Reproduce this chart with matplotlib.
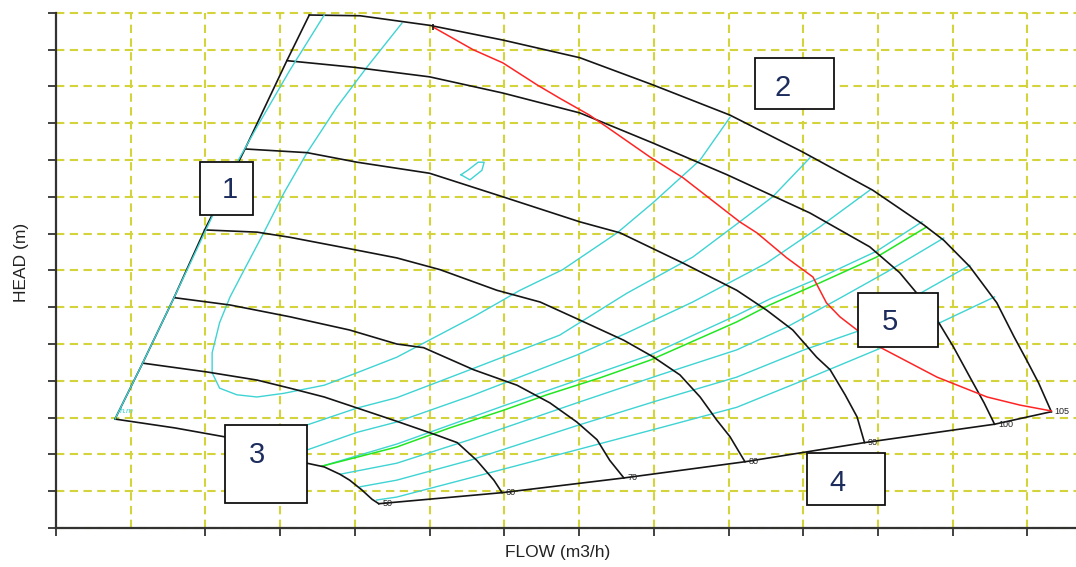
import matplotlib
matplotlib.use("Agg")
import matplotlib.pyplot as plt
from matplotlib.patches import Rectangle
from matplotlib.ticker import FixedLocator, NullFormatter

plt.rcParams['font.family'] = ['Liberation Sans', 'DejaVu Sans']

# ---------------- data (flow m3/h, head m) ----------------
speed_labels = ["50", "60", "70", "80", "90", "100", "105"]

q50 = [7.9, 9.9, 15.9, 22.5, 28.0, 33.6, 35.9, 38.0, 39.3, 40.9, 42.3, 43.2]
h50 = [14.8, 14.5, 13.6, 12.4, 10.6, 8.8, 8.3, 7.3, 6.5, 5.2, 3.9, 3.3]
q60 = [11.6, 20.2, 26.9, 31.3, 35.9, 41.2, 45.6, 51.0, 53.7, 56.3, 58.6, 59.7]
h60 = [22.4, 21.2, 20.1, 19.0, 17.8, 16.0, 14.5, 12.6, 11.6, 9.2, 6.5, 4.8]
q70 = [15.8, 23.3, 31.3, 39.3, 45.6, 49.2, 55.9, 61.7, 66.1, 69.7, 72.4, 74.1, 76.0]
h70 = [31.3, 30.3, 28.7, 26.9, 25.0, 24.5, 21.5, 19.4, 17.0, 14.4, 12.0, 9.2, 6.8]
q80 = [19.9, 26.9, 31.3, 38.0, 45.6, 51.4, 59.0, 64.8, 70.0, 76.0, 80.0, 83.5, 86.2, 88.4, 90.2, 92.2]
h80 = [40.5, 40.2, 39.5, 38.2, 36.7, 35.1, 32.3, 30.7, 28.3, 25.5, 23.2, 20.8, 17.8, 14.7, 12.4, 9.0]
q90 = [25.3, 33.6, 40.3, 50.0, 59.8, 70.1, 75.5, 83.9, 91.1, 95.1, 98.6, 101.8, 103.6, 105.6, 107.2, 108.2]
h90 = [51.5, 51.0, 49.7, 48.2, 45.0, 41.6, 40.1, 36.0, 32.3, 29.6, 26.9, 23.2, 21.5, 18.1, 15.1, 11.6]
q100 = [30.9, 39.9, 50.0, 59.8, 70.1, 79.9, 89.8, 100.9, 108.9, 112.9, 115.2, 117.9, 120.1, 122.3, 124.2, 125.6]
h100 = [63.5, 62.6, 61.3, 59.1, 56.4, 52.3, 48.0, 42.8, 38.2, 34.7, 31.9, 28.3, 24.6, 20.5, 17.0, 14.1]
q105 = [33.9, 40.7, 50.0, 59.8, 70.1, 79.9, 90.2, 99.9, 109.3, 116.1, 118.8, 122.3, 125.9, 128.2, 129.9, 131.5, 133.2]
h105 = [69.7, 69.6, 68.3, 66.3, 63.9, 60.2, 56.1, 51.1, 45.9, 41.2, 39.1, 35.5, 30.6, 26.0, 22.8, 19.7, 15.8]

# best-efficiency (red) line
q_red = [50.4, 55.8, 59.8, 64.4, 67.4, 71.4, 73.7, 79.5, 83.9, 91.5, 93.8, 97.8, 101.3, 103.1,
         104.9, 107.2, 110.2, 117.9, 124.6, 129.0, 133.2]
h_red = [68.1, 65.0, 63.2, 60.2, 58.4, 56.1, 54.5, 50.4, 47.6, 41.6, 40.1, 36.7, 34.1, 30.6,
         28.7, 26.9, 24.6, 20.5, 17.8, 16.7, 15.9]

# cyan iso-lines
q_cb = [7.9, 11.6, 15.8, 20.9, 24.2, 26.9, 31.3, 35.9]
h_cb = [14.8, 22.4, 31.3, 42.3, 49.6, 54.5, 62.2, 69.7]
q_l1 = [46.3, 41.6, 37.6, 33.6, 30.5, 27.8, 25.2, 23.3, 21.9, 20.9, 20.9, 21.9, 24.2, 26.9, 30.5,
        35.9, 40.3, 45.6, 55.9, 62.1, 67.8, 75.1, 79.9, 86.2, 90.2]
h_l1 = [68.6, 62.6, 57.2, 51.0, 45.5, 40.1, 35.1, 31.4, 27.9, 23.8, 21.1, 19.0, 18.1, 17.8, 18.3,
        19.4, 21.1, 23.2, 28.7, 32.3, 35.1, 40.1, 44.2, 50.0, 55.8]
q_l2 = [25.3, 33.6, 40.3, 45.6, 55.4, 67.4, 76.4, 85.2, 91.5, 95.9, 100.9]
h_l2 = [11.8, 14.0, 16.3, 17.7, 21.5, 26.2, 31.9, 36.8, 41.6, 45.0, 50.3]
q_l3 = [30.6, 33.6, 40.3, 45.6, 55.4, 69.7, 76.4, 85.2, 95.1, 102.2, 108.9]
h_l3 = [9.6, 10.6, 13.0, 14.4, 17.9, 23.5, 26.5, 30.7, 36.0, 40.9, 45.9]
q_l4 = [35.6, 45.6, 59.9, 79.5, 91.1, 95.5, 102.2, 109.8, 115.9]
h_l4 = [8.4, 11.4, 16.6, 23.5, 28.9, 31.1, 34.0, 37.6, 41.6]
q_l5 = [38.0, 45.6, 55.4, 70.0, 80.8, 91.1, 97.8, 104.5, 111.2, 118.8]
h_l5 = [7.3, 8.8, 12.0, 17.1, 20.8, 24.2, 27.3, 31.0, 34.8, 39.4]
q_l6 = [40.7, 45.6, 55.4, 70.0, 80.8, 91.1, 100.1, 108.9, 114.8, 122.3]
h_l6 = [5.6, 6.5, 9.2, 14.0, 17.4, 20.5, 24.2, 27.3, 31.4, 35.7]
q_l7 = [42.9, 45.6, 55.4, 70.0, 80.8, 91.1, 100.1, 109.8, 118.3, 125.6]
h_l7 = [3.8, 4.2, 6.8, 10.7, 13.6, 16.4, 20.1, 24.2, 27.9, 31.4]
q_island = [54.2, 55.4, 57.0, 57.3, 56.5, 55.1, 54.2]
h_island = [48.0, 47.3, 48.6, 49.7, 49.7, 48.6, 48.0]

# green line
q_green = [35.6, 45.6, 52.7, 59.9, 65.7, 72.8, 79.5, 91.1, 95.5, 102.2, 109.8, 116.5]
h_green = [8.4, 11.0, 13.6, 16.0, 18.1, 20.4, 22.8, 28.0, 30.3, 33.3, 36.8, 40.9]

# numbered callout boxes
box_labels = ["1", "2", "3", "4", "5"]
box_q0 = [19.3, 93.5, 22.6, 100.5, 107.3]
box_h0 = [42.5, 56.9, 3.4, 3.1, 24.6]
box_w = [7.1, 10.6, 11.0, 10.4, 10.8]
box_h = [7.2, 6.9, 10.6, 7.1, 7.3]
box_tq = [23.3, 97.3, 26.9, 104.6, 111.6]
box_th = [45.9, 59.8, 9.9, 6.1, 28.0]

# grid / tick positions
grid_q = list(range(10, 140, 10))
tick_q = [0] + list(range(20, 140, 10))
grid_h = list(range(5, 75, 5))

# ---------------- figure ----------------
fig = plt.figure(figsize=(10.76, 5.67), dpi=100)
ax = fig.add_axes([0.0520, 0.0688, 0.9480, 0.9086])
ax.set_xlim(0, 136.5)
ax.set_ylim(0, 70)

CYAN = '#3fd3d3'
BLACK = '#151515'
GRID = '#d3d33c'

ax.xaxis.remove_overlapping_locs = False
ax.xaxis.set_minor_locator(FixedLocator(grid_q))
ax.xaxis.set_minor_formatter(NullFormatter())
ax.set_xticks(tick_q)
ax.set_yticks([0] + grid_h)
ax.set_xticklabels([])
ax.set_yticklabels([])
ax.grid(False)
ax.grid(True, which='minor', axis='x', color=GRID, linestyle=(0, (4, 2.6)), linewidth=1.5, zorder=0)
ax.grid(True, which='major', axis='y', color=GRID, linestyle=(0, (4, 2.6)), linewidth=1.5, zorder=0)
for gl in ax.get_ygridlines():
    gl.set_clip_on(False)
ax.tick_params(axis='x', which='minor', length=0)
ax.tick_params(axis='both', which='major', direction='out', length=6, width=1.3, color='#333333')
ax.set_axisbelow(True)
for s in ['top', 'right']:
    ax.spines[s].set_visible(False)
for s in ['left', 'bottom']:
    ax.spines[s].set_color('#333333')
    ax.spines[s].set_linewidth(1.6)

# cyan lines
cyan_sets = [(q_l1, h_l1), (q_l2, h_l2), (q_l3, h_l3), (q_l4, h_l4),
             (q_l5, h_l5), (q_l6, h_l6), (q_l7, h_l7), (q_island, h_island)]
for qq, hh in cyan_sets:
    ax.plot(qq, hh, color=CYAN, lw=1.0, zorder=2)

# green line
ax.plot(q_green, h_green, color='#22e622', lw=1.1, zorder=3)

# speed curves
speed_q = [q50, q60, q70, q80, q90, q100, q105]
speed_h = [h50, h60, h70, h80, h90, h100, h105]
for qq, hh in zip(speed_q, speed_h):
    ax.plot(qq, hh, color=BLACK, lw=1.2, zorder=4)

# envelope boundaries from curve ends
left_q = [qq[0] for qq in speed_q]
left_h = [hh[0] for hh in speed_h]
right_q = [qq[-1] for qq in speed_q]
right_h = [hh[-1] for hh in speed_h]
ax.plot(left_q, left_h, color=BLACK, lw=1.2, zorder=4)
ax.plot(right_q, right_h, color=BLACK, lw=1.2, zorder=4)
ax.plot(q_cb, h_cb, color=CYAN, lw=1.0, zorder=4.5)

# red line
ax.plot(q_red, h_red, color='#ff2424', lw=1.1, zorder=5)
ax.plot(q_red[0], h_red[0], marker='|', color=BLACK, ms=5, mew=1.2, zorder=5)

# speed labels
for lab, qe, he in zip(speed_labels, right_q, right_h):
    ax.annotate(lab, (qe, he), xytext=(2.5, 0), textcoords='offset points',
                fontsize=6.5, va='center', ha='left', color='#222222', zorder=6,
                annotation_clip=False)

ax.text(left_q[0] + 0.6, left_h[0] + 0.6, "h.m", fontsize=6, color=CYAN,
        style='italic', ha='left', va='bottom', zorder=6)

# callout boxes
for lab, q0, h0, w, h, tq, th in zip(box_labels, box_q0, box_h0, box_w, box_h, box_tq, box_th):
    ax.add_patch(Rectangle((q0, h0), w, h, facecolor='white', edgecolor='#111111',
                           lw=1.3, zorder=10))
    ax.text(tq, th, lab, fontsize=21, color='#1c2c5c', ha='center', va='center', zorder=11)

# axis titles
fig.text(558 / 1076, 1 - 553 / 567, "FLOW (m3/h)", fontsize=12.5, color='#222222',
         ha='center', va='center')
fig.text(22 / 1076, 1 - 262 / 567, "HEAD (m)", fontsize=12.5, color='#222222',
         ha='center', va='center', rotation=90)

fig.savefig("out.png", dpi=100)
